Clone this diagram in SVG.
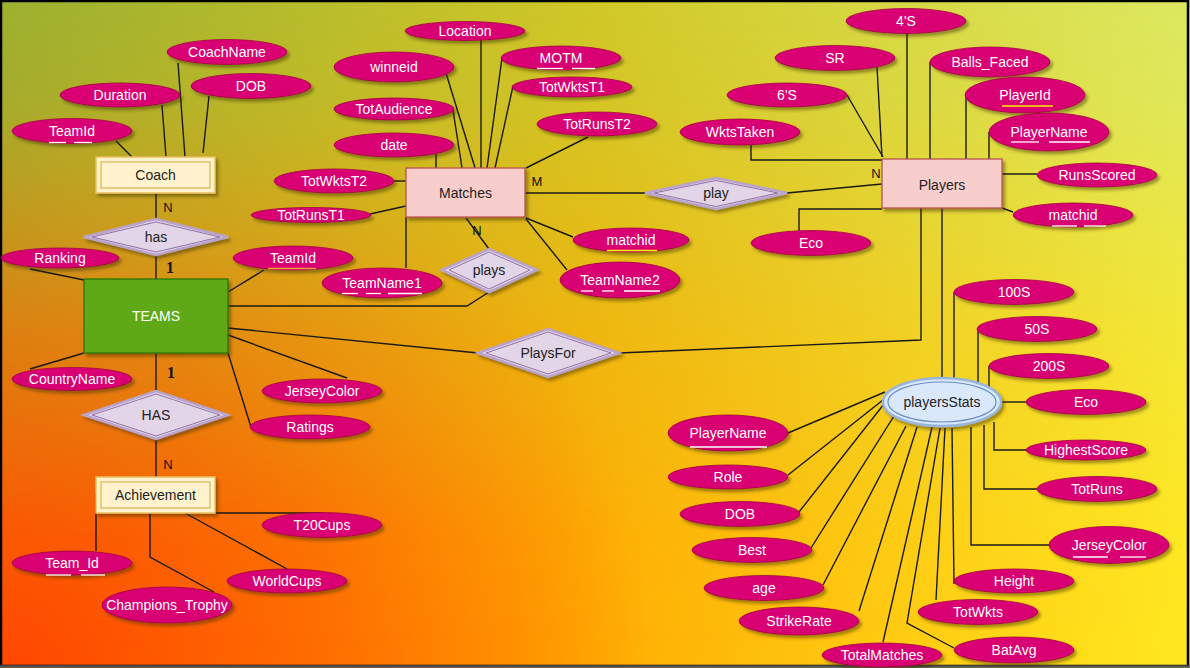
<svg xmlns="http://www.w3.org/2000/svg" width="1190" height="668" viewBox="0 0 1190 668">
<defs>
<linearGradient id="gBottom" x1="0" y1="0" x2="1" y2="0">
<stop offset="0" stop-color="#ff8a00"/>
<stop offset="0.45" stop-color="#ffa800"/>
<stop offset="1" stop-color="#ffe820"/>
</linearGradient>
<radialGradient id="gRed" gradientUnits="userSpaceOnUse" cx="0" cy="668" r="650">
<stop offset="0" stop-color="#ff4000" stop-opacity="0.9"/>
<stop offset="0.5" stop-color="#ff4000" stop-opacity="0.5"/>
<stop offset="1" stop-color="#ff4000" stop-opacity="0"/>
</radialGradient>
<linearGradient id="gTop" x1="0" y1="0" x2="1" y2="0">
<stop offset="0" stop-color="#9cb030"/>
<stop offset="0.5" stop-color="#d0c828"/>
<stop offset="1" stop-color="#dde860"/>
</linearGradient>
<linearGradient id="gMask" x1="0" y1="0" x2="0" y2="1">
<stop offset="0" stop-color="#fff"/>
<stop offset="0.15" stop-color="#fff" stop-opacity="0.9"/>
<stop offset="0.5" stop-color="#fff" stop-opacity="0.35"/>
<stop offset="0.8" stop-color="#fff" stop-opacity="0.05"/>
<stop offset="1" stop-color="#fff" stop-opacity="0"/>
</linearGradient>
<mask id="mTop"><rect x="0" y="0" width="1190" height="668" fill="url(#gMask)"/></mask>
<filter id="sh" x="-20%" y="-30%" width="150%" height="180%">
<feDropShadow dx="2.5" dy="3" stdDeviation="1.5" flood-color="#3a2a00" flood-opacity="0.45"/>
</filter>
<style>
.a{fill:#d80073;stroke:#a50040;stroke-width:0.8;filter:url(#sh)}
.at{font-family:"Liberation Sans",Arial,sans-serif;font-size:14px;fill:#fff;text-anchor:middle}
.u{stroke:#fff;stroke-width:1.3}
.uy{stroke:#ffee00;stroke-width:1.3}
.uo{stroke:#f5a040;stroke-width:1.3}
.c{fill:none;stroke:#1a1a1a;stroke-width:1.4}
.wk{fill:#fff2cc;stroke:#e8c060;stroke-width:1.5;filter:url(#sh)}
.wki{fill:none;stroke:#d6b656;stroke-width:1.2}
.en{fill:#f8cecc;stroke:#b85450;stroke-width:1.3;filter:url(#sh)}
.rel{fill:#e1d5e7;stroke:#b8a4cc;stroke-width:2.5;filter:url(#sh)}
.reli{fill:none;stroke:#9673a6;stroke-width:1}
.et{font-family:"Liberation Sans",Arial,sans-serif;font-size:14px;fill:#222;text-anchor:middle}
.card{font-family:"Liberation Sans",Arial,sans-serif;font-size:13px;fill:#111;text-anchor:middle}
.one{font-family:"Liberation Serif","Times New Roman",serif;font-size:16px;font-weight:bold;fill:#111;text-anchor:middle}
</style>
</defs>

<g id="background">
<rect x="0" y="0" width="1190" height="668" fill="url(#gBottom)"/>
<rect x="0" y="0" width="1190" height="668" fill="url(#gRed)"/>
<rect x="0" y="0" width="1190" height="668" fill="url(#gTop)" mask="url(#mTop)"/>
<rect x="1" y="1" width="1187" height="665" fill="none" stroke="#000" stroke-width="2.5"/>
<line x1="0" y1="666.5" x2="1190" y2="666.5" stroke="#555" stroke-width="2.5"/>
</g>

<g id="connectors">
<path class="c" d="M116,141 L132,157"/>
<path class="c" d="M162,105 L166,157"/>
<path class="c" d="M178,63 L185,157"/>
<path class="c" d="M209,96 L203,153"/>
<path class="c" d="M156,193 L156,219"/>
<path class="c" d="M156,255 L156,279"/>
<path class="c" d="M30,269 L84,280"/>
<path class="c" d="M264,270 L228,292"/>
<path class="c" d="M30,369 L84,353"/>
<path class="c" d="M156,353 L156,391"/>
<path class="c" d="M228,335 L347,378"/>
<path class="c" d="M228,353 L251,427"/>
<path class="c" d="M156,439 L156,477"/>
<path class="c" d="M228,306 L467,306 L489,292"/>
<path class="c" d="M228,328 L478,353"/>
<path class="c" d="M619,353 L921,340 L921,208"/>
<path class="c" d="M96,494 L96,551"/>
<path class="c" d="M150,513 L150,557 L214,592"/>
<path class="c" d="M185,513 L287,569"/>
<path class="c" d="M215,513 L322,513"/>
<path class="c" d="M481,40 L481,168"/>
<path class="c" d="M446,73 L476,171"/>
<path class="c" d="M502,58 L487,168"/>
<path class="c" d="M513,86 L495,168"/>
<path class="c" d="M453,110 L462,168"/>
<path class="c" d="M436,154 L436,168"/>
<path class="c" d="M394,181 L406,181"/>
<path class="c" d="M370,214 L406,206"/>
<path class="c" d="M588,137 L526,168"/>
<path class="c" d="M526,218 L573,237"/>
<path class="c" d="M526,219 L567,270"/>
<path class="c" d="M406,217 L406,268"/>
<path class="c" d="M466,218 L489,249"/>
<path class="c" d="M525,193 L645,193"/>
<path class="c" d="M787,193 L882,184"/>
<path class="c" d="M751,145 L751,160 L882,160"/>
<path class="c" d="M847,95 L883,157"/>
<path class="c" d="M877,67 L882,157"/>
<path class="c" d="M907,33 L907,159"/>
<path class="c" d="M930,62 L930,159"/>
<path class="c" d="M966,95 L966,159"/>
<path class="c" d="M989,132 L989,159"/>
<path class="c" d="M1002,174 L1037,174"/>
<path class="c" d="M1002,208 L1013,212"/>
<path class="c" d="M799,231 L799,209 L882,209"/>
<path class="c" d="M942,208 L942,378"/>
<path class="c" d="M954,292 L954,378"/>
<path class="c" d="M978,329 L978,390"/>
<path class="c" d="M989,366 L989,402"/>
<path class="c" d="M1001,402 L1026,402"/>
<path class="c" d="M994,422 L994,450 L1026,450"/>
<path class="c" d="M984,425 L984,489 L1037,489"/>
<path class="c" d="M971,427 L971,545 L1049,545"/>
<path class="c" d="M952,428 L954,584"/>
<path class="c" d="M945,428 L936,600"/>
<path class="c" d="M940,428 L907,623 L954,648"/>
<path class="c" d="M932,427 L883,642"/>
<path class="c" d="M917,427 L859,611"/>
<path class="c" d="M906,426 L823,585"/>
<path class="c" d="M894,416 L811,548"/>
<path class="c" d="M884,404 L799,512"/>
<path class="c" d="M883,400 L788,475"/>
<path class="c" d="M885,392 L788,433"/>
</g>

<g id="cardinalities">
<text class="card" x="168" y="212">N</text>
<text class="one" x="170" y="273">1</text>
<text class="one" x="171" y="378">1</text>
<text class="card" x="168" y="469">N</text>
<text class="card" x="537" y="186">M</text>
<text class="card" x="477" y="235">N</text>
<text class="card" x="876" y="178">N</text>
<text class="card" x="916" y="205">N</text>
</g>

<g id="coach">
<rect class="wk" x="96" y="157" width="119" height="36"/>
<rect class="wki" x="101" y="162" width="109" height="26"/>
<text class="et" x="155.5" y="180">Coach</text>
</g>
<g id="coach-coachname"><ellipse class="a" cx="227" cy="52" rx="60" ry="12.5"/><text class="at" x="227" y="57">CoachName</text></g>
<g id="coach-dob"><ellipse class="a" cx="251" cy="86" rx="60" ry="12.5"/><text class="at" x="251" y="91">DOB</text></g>
<g id="coach-duration"><ellipse class="a" cx="120" cy="95" rx="60" ry="12"/><text class="at" x="120" y="100">Duration</text></g>
<g id="coach-teamid"><ellipse class="a" cx="72" cy="131" rx="60" ry="12.5"/><text class="at" x="72" y="136">TeamId</text><line class="u" x1="49" y1="142.5" x2="66" y2="142.5"/><line class="u" x1="74" y1="142.5" x2="92" y2="142.5"/></g>

<g id="has">
<polygon class="rel" points="84,237 156,219 228,237 156,255"/>
<polygon class="reli" points="92,237 156,222 220,237 156,252"/>
<text class="et" x="156" y="242">has</text>
</g>

<g id="teams">
<rect x="84" y="279" width="144" height="74" fill="#60a917" stroke="#2d7600" stroke-width="1.3" filter="url(#sh)"/>
<text class="at" x="156" y="321">TEAMS</text>
</g>
<g id="teams-ranking"><ellipse class="a" cx="60" cy="258" rx="59" ry="10"/><text class="at" x="60" y="263">Ranking</text></g>
<g id="teams-teamid"><ellipse class="a" cx="293" cy="258" rx="60" ry="12"/><text class="at" x="293" y="263">TeamId</text><line class="uo" x1="268" y1="268.5" x2="316" y2="268.5"/></g>
<g id="teams-countryname"><ellipse class="a" cx="72" cy="379" rx="60" ry="11.5"/><text class="at" x="72" y="384">CountryName</text></g>
<g id="teams-jerseycolor"><ellipse class="a" cx="322" cy="391" rx="60" ry="12"/><text class="at" x="322" y="396">JerseyColor</text></g>
<g id="teams-ratings"><ellipse class="a" cx="310" cy="427" rx="60" ry="12"/><text class="at" x="310" y="432">Ratings</text></g>

<g id="HAS">
<polygon class="rel" points="84,415 156,391 228,415 156,439"/>
<polygon class="reli" points="92,415 156,394 220,415 156,436"/>
<text class="et" x="156" y="420">HAS</text>
</g>

<g id="achievement">
<rect class="wk" x="96" y="477" width="119" height="36"/>
<rect class="wki" x="101" y="482" width="109" height="26"/>
<text class="et" x="155.5" y="500">Achievement</text>
</g>
<g id="ach-t20cups"><ellipse class="a" cx="322" cy="525" rx="60" ry="12.5"/><text class="at" x="322" y="530">T20Cups</text></g>
<g id="ach-worldcups"><ellipse class="a" cx="287" cy="581" rx="60" ry="12"/><text class="at" x="287" y="586">WorldCups</text></g>
<g id="ach-teamid"><ellipse class="a" cx="72" cy="563" rx="60" ry="12"/><text class="at" x="72" y="568">Team_Id</text><line class="u" x1="46" y1="575" x2="71" y2="575"/><line class="u" x1="81" y1="575" x2="105" y2="575"/></g>
<g id="ach-champions"><ellipse class="a" cx="167" cy="605" rx="65" ry="18"/><text class="at" x="167" y="610">Champions_Trophy</text></g>

<g id="matches">
<rect class="en" x="406" y="168" width="119" height="49"/>
<text class="et" x="465.5" y="198">Matches</text>
</g>
<g id="m-location"><ellipse class="a" cx="465" cy="31" rx="60" ry="9.5"/><text class="at" x="465" y="36">Location</text></g>
<g id="m-winneid"><ellipse class="a" cx="394" cy="67" rx="60" ry="15"/><text class="at" x="394" y="72">winneid</text></g>
<g id="m-motm"><ellipse class="a" cx="561" cy="58" rx="60" ry="12"/><text class="at" x="561" y="63">MOTM</text><line class="u" x1="537" y1="68.5" x2="563" y2="68.5"/><line class="u" x1="572" y1="68.5" x2="595" y2="68.5"/></g>
<g id="m-totwktst1"><ellipse class="a" cx="572" cy="87" rx="60" ry="10"/><text class="at" x="572" y="92">TotWktsT1</text></g>
<g id="m-totaudience"><ellipse class="a" cx="394" cy="109" rx="60" ry="11"/><text class="at" x="394" y="114">TotAudience</text></g>
<g id="m-totrunst2"><ellipse class="a" cx="597" cy="124" rx="60" ry="12"/><text class="at" x="597" y="129">TotRunsT2</text></g>
<g id="m-date"><ellipse class="a" cx="394" cy="145" rx="60" ry="12"/><text class="at" x="394" y="150">date</text></g>
<g id="m-totwktst2"><ellipse class="a" cx="334" cy="181" rx="60" ry="12"/><text class="at" x="334" y="186">TotWktsT2</text></g>
<g id="m-totrunst1"><ellipse class="a" cx="311" cy="215" rx="60" ry="7.5"/><text class="at" x="311" y="220">TotRunsT1</text></g>
<g id="m-matchid"><ellipse class="a" cx="631" cy="240" rx="58" ry="12"/><text class="at" x="631" y="245">matchid</text><line class="uy" x1="607" y1="250.5" x2="657" y2="250.5"/></g>
<g id="m-teamname2"><ellipse class="a" cx="620" cy="280" rx="60" ry="18"/><text class="at" x="620" y="285">TeamName2</text><line class="u" x1="581" y1="291" x2="593" y2="291"/><line class="u" x1="602" y1="291" x2="614" y2="291"/><line class="u" x1="624" y1="291" x2="660" y2="291"/></g>
<g id="m-teamname1"><ellipse class="a" cx="382" cy="283" rx="60" ry="15"/><text class="at" x="382" y="288">TeamName1</text><line class="u" x1="342" y1="293.5" x2="358" y2="293.5"/><line class="u" x1="366" y1="293.5" x2="381" y2="293.5"/><line class="u" x1="388" y1="293.5" x2="422" y2="293.5"/></g>

<g id="plays">
<polygon class="rel" points="442,270 489,249 537,270 489,292"/>
<polygon class="reli" points="449,270 489,252 530,270 489,289"/>
<text class="et" x="489" y="275">plays</text>
</g>

<g id="play">
<polygon class="rel" points="645,193 716,178 787,193 716,209"/>
<polygon class="reli" points="654,193 716,180.5 778,193 716,206.5"/>
<text class="et" x="716" y="198">play</text>
</g>

<g id="playsfor">
<polygon class="rel" points="478,353 548,329 619,353 548,377"/>
<polygon class="reli" points="486,353 548,332 611,353 548,374"/>
<text class="et" x="548" y="358">PlaysFor</text>
</g>

<g id="players">
<rect class="en" x="882" y="159" width="120" height="49"/>
<text class="et" x="942" y="190">Players</text>
</g>
<g id="p-4s"><ellipse class="a" cx="906" cy="21" rx="60" ry="12.5"/><text class="at" x="906" y="26">4'S</text></g>
<g id="p-sr"><ellipse class="a" cx="835" cy="58" rx="60" ry="12.5"/><text class="at" x="835" y="63">SR</text></g>
<g id="p-ballsfaced"><ellipse class="a" cx="990" cy="62" rx="60" ry="15"/><text class="at" x="990" y="67">Balls_Faced</text></g>
<g id="p-6s"><ellipse class="a" cx="787" cy="95" rx="60" ry="12"/><text class="at" x="787" y="100">6'S</text></g>
<g id="p-playerid"><ellipse class="a" cx="1025" cy="95" rx="60" ry="18"/><text class="at" x="1025" y="100">PlayerId</text><line class="uy" x1="1002" y1="106" x2="1053" y2="106"/></g>
<g id="p-wktstaken"><ellipse class="a" cx="740" cy="132" rx="60" ry="13"/><text class="at" x="740" y="137">WktsTaken</text></g>
<g id="p-playername"><ellipse class="a" cx="1049" cy="132" rx="60" ry="19"/><text class="at" x="1049" y="137">PlayerName</text><line class="u" x1="1011" y1="142" x2="1039" y2="142"/><line class="u" x1="1049" y1="142" x2="1090" y2="142"/></g>
<g id="p-runsscored"><ellipse class="a" cx="1097" cy="175" rx="60" ry="12"/><text class="at" x="1097" y="180">RunsScored</text></g>
<g id="p-matchid"><ellipse class="a" cx="1073" cy="215" rx="60" ry="12"/><text class="at" x="1073" y="220">matchid</text><line class="u" x1="1052" y1="226" x2="1077" y2="226"/><line class="u" x1="1084" y1="226" x2="1106" y2="226"/></g>
<g id="p-eco"><ellipse class="a" cx="811" cy="243" rx="60" ry="12.5"/><text class="at" x="811" y="248">Eco</text></g>

<g id="playersstats">
<ellipse cx="942" cy="402" rx="59" ry="24" fill="#dae8fc" stroke="#9ab5da" stroke-width="2.5" filter="url(#sh)"/>
<ellipse cx="942" cy="402" rx="54" ry="20" fill="none" stroke="#6c8ebf" stroke-width="1.2"/>
<text class="et" x="942" y="407">playersStats</text>
</g>
<g id="s-100s"><ellipse class="a" cx="1014" cy="292" rx="60" ry="12.5"/><text class="at" x="1014" y="297">100S</text></g>
<g id="s-50s"><ellipse class="a" cx="1037" cy="329" rx="60" ry="12.5"/><text class="at" x="1037" y="334">50S</text></g>
<g id="s-200s"><ellipse class="a" cx="1049" cy="366" rx="60" ry="12.5"/><text class="at" x="1049" y="371">200S</text></g>
<g id="s-eco"><ellipse class="a" cx="1086" cy="402" rx="60" ry="12.5"/><text class="at" x="1086" y="407">Eco</text></g>
<g id="s-highestscore"><ellipse class="a" cx="1086" cy="450" rx="60" ry="10"/><text class="at" x="1086" y="455">HighestScore</text></g>
<g id="s-totruns"><ellipse class="a" cx="1097" cy="489" rx="60" ry="12.5"/><text class="at" x="1097" y="494">TotRuns</text></g>
<g id="s-jerseycolor"><ellipse class="a" cx="1109" cy="545" rx="60" ry="18.5"/><text class="at" x="1109" y="550">JerseyColor</text><line class="u" x1="1073" y1="557" x2="1108" y2="557"/><line class="u" x1="1120" y1="557" x2="1146" y2="557"/></g>
<g id="s-height"><ellipse class="a" cx="1014" cy="581" rx="60" ry="12"/><text class="at" x="1014" y="586">Height</text></g>
<g id="s-totwkts"><ellipse class="a" cx="978" cy="612" rx="60" ry="12.5"/><text class="at" x="978" y="617">TotWkts</text></g>
<g id="s-batavg"><ellipse class="a" cx="1014" cy="650" rx="60" ry="13"/><text class="at" x="1014" y="655">BatAvg</text></g>
<g id="s-totalmatches"><ellipse class="a" cx="882" cy="655" rx="60" ry="12"/><text class="at" x="882" y="660">TotalMatches</text></g>
<g id="s-strikerate"><ellipse class="a" cx="799" cy="621" rx="60" ry="14"/><text class="at" x="799" y="626">StrikeRate</text></g>
<g id="s-age"><ellipse class="a" cx="764" cy="588" rx="60" ry="12.5"/><text class="at" x="764" y="593">age</text></g>
<g id="s-best"><ellipse class="a" cx="752" cy="550" rx="60" ry="12.5"/><text class="at" x="752" y="555">Best</text></g>
<g id="s-dob"><ellipse class="a" cx="740" cy="514" rx="60" ry="12.5"/><text class="at" x="740" y="519">DOB</text></g>
<g id="s-role"><ellipse class="a" cx="728" cy="477" rx="60" ry="12"/><text class="at" x="728" y="482">Role</text></g>
<g id="s-playername"><ellipse class="a" cx="728" cy="433" rx="60" ry="18"/><text class="at" x="728" y="438">PlayerName</text><line class="u" x1="690" y1="447" x2="767" y2="447"/></g>
</svg>
